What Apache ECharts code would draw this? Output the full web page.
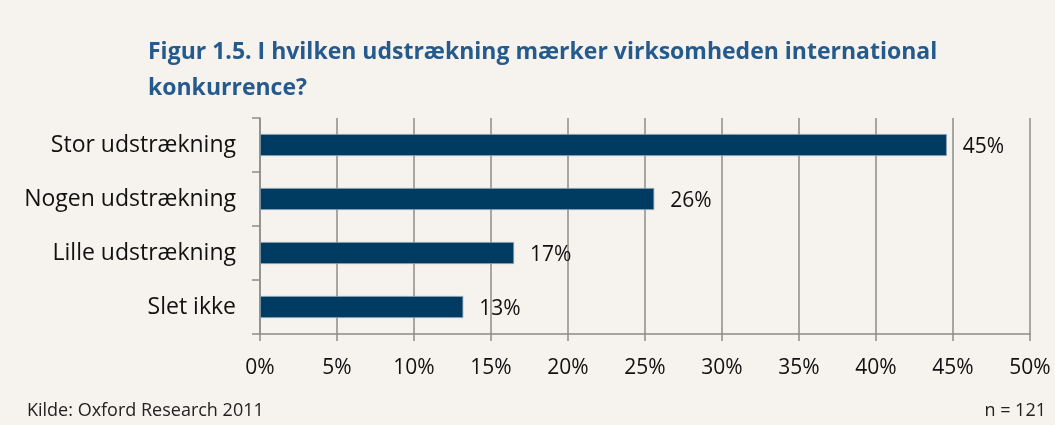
<!DOCTYPE html>
<html><head><meta charset="utf-8">
<script src="https://cdn.jsdelivr.net/npm/echarts@6/dist/echarts.min.js"></script>
<style>html,body{margin:0;padding:0;background:#f6f2ed;}#c{width:1055px;height:425px;}</style>
</head><body><div id="c"></div>
<script>
const categories = ['Slet ikke', 'Lille udstrækning', 'Nogen udstrækning', 'Stor udstrækning'];
const values = [13.2, 16.5, 25.6, 44.6];
const xTicks = [0, 5, 10, 15, 20, 25, 30, 35, 40, 45, 50];
const titleText = 'Figur 1.5. I hvilken udstrækning mærker virksomheden international\nkonkurrence?';
const sourceText = 'Kilde: Oxford Research 2011';
const nText = 'n = 121';

const font = "'Open Sans', 'Liberation Sans', sans-serif";
const chart = echarts.init(document.getElementById('c'));
chart.setOption({
  backgroundColor: '#f6f2ed',
  animation: false,
  title: {
    text: titleText, left: 143, top: 29,
    textStyle: { fontFamily: font, fontWeight: 'bold', fontSize: 23, color: '#245a8c', lineHeight: 36 }
  },
  graphic: [
    { type: 'text', left: 27, top: 402, style: { text: sourceText, font: "18px 'Open Sans', sans-serif", fill: '#222' } },
    { type: 'text', right: 9, top: 402, style: { text: nText, font: "18px 'Open Sans', sans-serif", fill: '#222' } }
  ],
  grid: { left: 260, right: 25, top: 118, bottom: 91, containLabel: false },
  xAxis: {
    type: 'value', min: xTicks[0], max: xTicks[xTicks.length - 1], interval: 5,
    axisLine: { show: true, lineStyle: { color: '#8c8c8c', width: 1.5 } },
    axisTick: { show: true, length: 7, lineStyle: { color: '#8c8c8c', width: 1.5 } },
    splitLine: { show: true, lineStyle: { color: '#8c8c8c', width: 1.5 } },
    axisLabel: { formatter: v => v + '%', fontFamily: font, fontSize: 21, color: '#111', margin: 24 }
  },
  yAxis: {
    type: 'category', data: categories,
    axisLine: { show: true, lineStyle: { color: '#8c8c8c', width: 1.5 } },
    axisTick: { show: true, length: 8, lineStyle: { color: '#8c8c8c', width: 1.5 } },
    axisLabel: { fontFamily: font, fontSize: 23, color: '#111', margin: 24 }
  },
  series: [{
    type: 'bar', data: values, barWidth: 22,
    itemStyle: { color: '#003b62', borderColor: '#8aa0b4', borderWidth: 0.8 },
    label: {
      show: true, position: 'right', distance: 16,
      formatter: p => Math.round(p.value) + '%',
      fontFamily: font, fontSize: 21, color: '#111', offset: [0, 2]
    }
  }]
});
</script></body></html>
